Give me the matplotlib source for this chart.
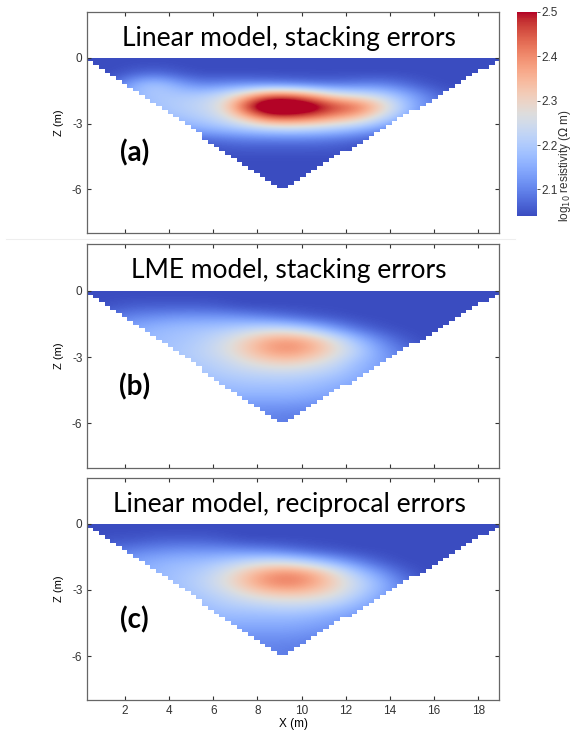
import numpy as np
import matplotlib
matplotlib.use('Agg')
from matplotlib import pyplot as plt
from matplotlib.patches import Polygon
from matplotlib.lines import Line2D

plt.rcParams['font.family'] = ['Liberation Sans', 'DejaVu Sans']

# cell centres of the coarse resistivity grid
x_centres = [0.5, 1.5, 2.5, 3.5, 4.5, 5.5, 6.5, 7.5, 8.5, 9.5,
             10.5, 11.5, 12.5, 13.5, 14.5, 15.5, 16.5, 17.5, 18.5]
z_centres = [-0.25, -0.75, -1.25, -1.75, -2.25, -2.75,
             -3.25, -3.75, -4.25, -4.75, -5.25, -5.75]

# log10 resistivity, rows = depth (top to bottom), cols = x
res_a = [
    [2.04]*19,
    [2.04, 2.04, 2.06, 2.07, 2.05, 2.04, 2.04, 2.04, 2.04, 2.04, 2.04, 2.04, 2.04, 2.04, 2.04, 2.04, 2.04, 2.04, 2.04],
    [2.04, 2.07, 2.17, 2.20, 2.14, 2.10, 2.11, 2.11, 2.10, 2.09, 2.08, 2.08, 2.09, 2.10, 2.08, 2.05, 2.04, 2.04, 2.04],
    [2.06, 2.11, 2.17, 2.20, 2.20, 2.21, 2.25, 2.34, 2.45, 2.45, 2.38, 2.29, 2.26, 2.23, 2.17, 2.11, 2.06, 2.04, 2.04],
    [2.10, 2.13, 2.16, 2.19, 2.21, 2.23, 2.29, 2.50, 2.62, 2.62, 2.57, 2.49, 2.45, 2.34, 2.21, 2.12, 2.08, 2.04, 2.04],
    [2.10, 2.12, 2.15, 2.17, 2.19, 2.21, 2.25, 2.34, 2.45, 2.46, 2.43, 2.38, 2.34, 2.25, 2.17, 2.10, 2.06, 2.04, 2.04],
    [2.06, 2.08, 2.10, 2.12, 2.14, 2.16, 2.18, 2.20, 2.22, 2.23, 2.22, 2.20, 2.17, 2.13, 2.08, 2.05, 2.04, 2.04, 2.04],
    [2.04, 2.04, 2.05, 2.06, 2.06, 2.07, 2.08, 2.09, 2.09, 2.09, 2.09, 2.08, 2.07, 2.05, 2.04, 2.04, 2.04, 2.04, 2.04],
    [2.04, 2.04, 2.04, 2.04, 2.04, 2.04, 2.05, 2.05, 2.05, 2.05, 2.05, 2.05, 2.04, 2.04, 2.04, 2.04, 2.04, 2.04, 2.04],
    [2.04]*19,
    [2.04]*19,
    [2.04]*19,
]

res_b = [
    [2.04]*19,
    [2.04, 2.05, 2.06, 2.06, 2.06, 2.06, 2.05, 2.04, 2.04, 2.04, 2.04, 2.04, 2.04, 2.04, 2.04, 2.04, 2.04, 2.04, 2.04],
    [2.08, 2.09, 2.11, 2.12, 2.13, 2.13, 2.13, 2.12, 2.10, 2.08, 2.06, 2.05, 2.04, 2.04, 2.04, 2.04, 2.04, 2.04, 2.04],
    [2.12, 2.13, 2.15, 2.17, 2.18, 2.19, 2.20, 2.22, 2.24, 2.23, 2.19, 2.13, 2.08, 2.05, 2.04, 2.04, 2.04, 2.04, 2.04],
    [2.14, 2.15, 2.16, 2.18, 2.19, 2.21, 2.25, 2.31, 2.37, 2.39, 2.35, 2.27, 2.18, 2.11, 2.06, 2.04, 2.04, 2.04, 2.04],
    [2.15, 2.15, 2.16, 2.18, 2.20, 2.22, 2.26, 2.32, 2.38, 2.40, 2.36, 2.29, 2.22, 2.14, 2.09, 2.05, 2.04, 2.04, 2.04],
    [2.15, 2.15, 2.16, 2.17, 2.19, 2.21, 2.23, 2.27, 2.30, 2.31, 2.28, 2.24, 2.18, 2.14, 2.10, 2.06, 2.04, 2.04, 2.04],
    [2.15, 2.15, 2.16, 2.17, 2.18, 2.19, 2.21, 2.22, 2.23, 2.23, 2.22, 2.20, 2.16, 2.13, 2.10, 2.06, 2.04, 2.04, 2.04],
    [2.15, 2.15, 2.15, 2.16, 2.17, 2.17, 2.18, 2.19, 2.19, 2.19, 2.18, 2.16, 2.14, 2.12, 2.10, 2.06, 2.04, 2.04, 2.04],
    [2.14, 2.14, 2.14, 2.15, 2.15, 2.15, 2.16, 2.16, 2.16, 2.16, 2.15, 2.14, 2.12, 2.10, 2.08, 2.05, 2.04, 2.04, 2.04],
    [2.12, 2.12, 2.12, 2.12, 2.12, 2.12, 2.12, 2.12, 2.12, 2.12, 2.11, 2.10, 2.09, 2.08, 2.06, 2.04, 2.04, 2.04, 2.04],
    [2.10, 2.10, 2.10, 2.10, 2.10, 2.10, 2.10, 2.10, 2.10, 2.09, 2.09, 2.08, 2.07, 2.06, 2.05, 2.04, 2.04, 2.04, 2.04],
]

res_c = [
    [2.04]*19,
    [2.04, 2.05, 2.05, 2.06, 2.06, 2.06, 2.05, 2.04, 2.04, 2.04, 2.04, 2.04, 2.04, 2.04, 2.04, 2.04, 2.04, 2.04, 2.04],
    [2.07, 2.08, 2.10, 2.11, 2.12, 2.12, 2.12, 2.11, 2.10, 2.08, 2.06, 2.05, 2.04, 2.04, 2.04, 2.04, 2.04, 2.04, 2.04],
    [2.11, 2.12, 2.14, 2.16, 2.17, 2.18, 2.20, 2.23, 2.25, 2.24, 2.20, 2.15, 2.10, 2.06, 2.04, 2.04, 2.04, 2.04, 2.04],
    [2.13, 2.14, 2.15, 2.17, 2.19, 2.21, 2.26, 2.33, 2.39, 2.41, 2.37, 2.29, 2.20, 2.13, 2.07, 2.04, 2.04, 2.04, 2.04],
    [2.14, 2.14, 2.15, 2.17, 2.19, 2.22, 2.27, 2.34, 2.40, 2.42, 2.38, 2.31, 2.24, 2.17, 2.10, 2.05, 2.04, 2.04, 2.04],
    [2.14, 2.14, 2.15, 2.16, 2.18, 2.20, 2.23, 2.27, 2.30, 2.31, 2.30, 2.27, 2.21, 2.15, 2.10, 2.06, 2.04, 2.04, 2.04],
    [2.13, 2.13, 2.14, 2.15, 2.16, 2.18, 2.20, 2.21, 2.22, 2.23, 2.22, 2.20, 2.16, 2.12, 2.08, 2.05, 2.04, 2.04, 2.04],
    [2.12, 2.12, 2.13, 2.14, 2.15, 2.16, 2.17, 2.17, 2.17, 2.17, 2.16, 2.14, 2.12, 2.10, 2.07, 2.05, 2.04, 2.04, 2.04],
    [2.12, 2.12, 2.12, 2.13, 2.13, 2.14, 2.14, 2.14, 2.14, 2.14, 2.13, 2.12, 2.10, 2.08, 2.06, 2.04, 2.04, 2.04, 2.04],
    [2.11, 2.11, 2.11, 2.11, 2.11, 2.11, 2.11, 2.11, 2.11, 2.11, 2.10, 2.09, 2.08, 2.07, 2.05, 2.04, 2.04, 2.04, 2.04],
    [2.10, 2.10, 2.10, 2.10, 2.10, 2.10, 2.10, 2.10, 2.10, 2.09, 2.09, 2.08, 2.07, 2.06, 2.05, 2.04, 2.04, 2.04, 2.04],
]

titles = ['Linear model, stacking errors', 'LME model, stacking errors',
          'Linear model, reciprocal errors']
labels = ['(a)', '(b)', '(c)']
x_ticks = [2, 4, 6, 8, 10, 12, 14, 16, 18]
z_ticks = [-6, -3, 0]
cb_ticks = [2.1, 2.2, 2.3, 2.4, 2.5]

# pseudosection outline: left/right surface ends and deepest point
x_left, x_right = 0.3, 18.95
apex_x, apex_z = 9.1, -5.9
cell_dx, cell_dz = 0.26, 0.17

vmin, vmax = 2.04, 2.5


def outline():
    edges = np.arange(x_left, x_right, cell_dx)
    edges = np.append(edges, x_right)
    verts = [(x_left, 0)]
    for xl, xr in zip(edges[:-1], edges[1:]):
        xc = 0.5 * (xl + xr)
        d = min(-apex_z * (xc - x_left) / (apex_x - x_left),
                -apex_z * (x_right - xc) / (x_right - apex_x))
        d = max(np.ceil(d / cell_dz) * cell_dz, cell_dz)
        verts += [(xl, -d), (xr, -d)]
    verts.append((x_right, 0))
    return verts


fig = plt.figure(figsize=(5.72, 7.35), dpi=100)
boxes = [[0.1526, 0.6826, 0.7203, 0.3015],
         [0.1526, 0.3637, 0.7203, 0.3039],
         [0.1526, 0.0476, 0.7203, 0.3024]]

dx = x_centres[1] - x_centres[0]
dz = z_centres[0] - z_centres[1]
extent = (x_centres[0] - dx/2, x_centres[-1] + dx/2,
          z_centres[-1] - dz/2, z_centres[0] + dz/2)

for i, res in enumerate([res_a, res_b, res_c]):
    ax = fig.add_axes(boxes[i])
    im = ax.imshow(np.array(res), extent=extent, origin='upper', cmap='coolwarm',
                   vmin=vmin, vmax=vmax, interpolation='bicubic', aspect='auto')
    patch = Polygon(outline(), closed=True, facecolor='none', edgecolor='none',
                    transform=ax.transData)
    ax.add_patch(patch)
    im.set_clip_path(patch)
    ax.set_xlim(x_left, x_right)
    ax.set_ylim(-8, 2.1)
    ax.set_xticks(x_ticks)
    ax.set_yticks(z_ticks)
    ax.set_yticklabels(['-6', '-3', '0'])
    ax.tick_params(direction='in', top=True, right=True, length=3,
                   labelsize=8.5, colors='#333333', width=0.8)
    for s in ax.spines.values():
        s.set_color('#666666')
        s.set_linewidth(0.9)
    if i < 2:
        ax.set_xticklabels([])
    else:
        ax.set_xlabel('X (m)', fontsize=8.5, labelpad=1)
    ax.set_ylabel('Z (m)', fontsize=8, labelpad=6)
    ax.text(0.49, 0.9, titles[i], transform=ax.get_yaxis_transform(),
            ha='center', va='center', fontsize=19, family=['Lato', 'DejaVu Sans'])
    ax.text(2.45, -4.35, labels[i], ha='center', va='center', fontsize=20,
            fontweight='bold', family=['Lato', 'DejaVu Sans'])

cax = fig.add_axes([0.9038, 0.7061, 0.035, 0.2776])
cb = fig.colorbar(im, cax=cax, ticks=cb_ticks)
cb.outline.set_visible(False)
cb.ax.tick_params(labelsize=8.5, length=2.5, width=0.6, pad=1, colors='#333333')
fig.text(0.988, 0.775, r'log$_{10}$ resistivity ($\Omega$ m)', rotation=90,
         ha='center', va='center', fontsize=8.5, color='#333333')

fig.add_artist(Line2D([0.01, 0.9], [1 - 239/735, 1 - 239/735],
                      color='#eeeeee', linewidth=0.8))

fig.savefig('out.png', dpi=100)
